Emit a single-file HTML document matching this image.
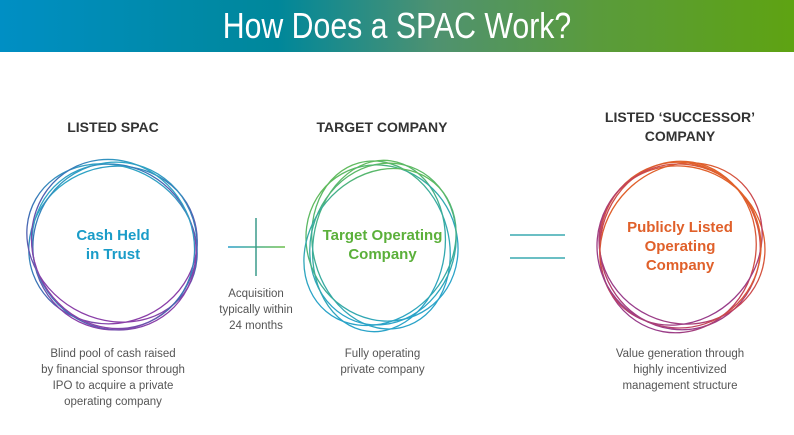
<!DOCTYPE html>
<html><head><meta charset="utf-8"><style>
body{margin:0;width:794px;height:435px;background:#fff;overflow:hidden;font-family:"Liberation Sans",sans-serif;position:relative}
.hdr{position:absolute;left:0;top:0;width:794px;height:52px;background:linear-gradient(90deg,#008fc4 0%,#00879a 35%,#4f9270 55%,#5a9b3c 75%,#5ea312 100%)}
.hdr span{display:block;color:#fff;font-size:36px;text-align:center;line-height:52px;transform:scaleX(0.84);transform-origin:397px 0}
.t{position:absolute;text-align:center;color:#333;font-weight:bold;font-size:14px;line-height:19px}
.d{position:absolute;text-align:center;color:#555;font-size:11.5px;line-height:16px}
.c{position:absolute;text-align:center;font-weight:bold;font-size:15px;line-height:19px}
</style></head><body>
<div class="hdr"><span>How Does a SPAC Work?</span></div>
<svg width="794" height="435" style="position:absolute;left:0;top:0">
<defs>
<linearGradient id="g1" x1="0" y1="0" x2="0.3" y2="1"><stop offset="0" stop-color="#2ab3c9"/><stop offset="0.55" stop-color="#3b6fb5"/><stop offset="1" stop-color="#8a3fa8"/></linearGradient>
<linearGradient id="g2" x1="0" y1="0" x2="0.3" y2="1"><stop offset="0" stop-color="#6cbf4a"/><stop offset="0.5" stop-color="#3aac9a"/><stop offset="1" stop-color="#2aa3c8"/></linearGradient>
<linearGradient id="g3" x1="0.3" y1="0" x2="0" y2="1"><stop offset="0" stop-color="#e0602a"/><stop offset="0.5" stop-color="#c3405a"/><stop offset="1" stop-color="#8a3c9a"/></linearGradient>
<linearGradient id="gp" gradientUnits="userSpaceOnUse" x1="228" y1="0" x2="285" y2="0"><stop offset="0" stop-color="#2a9fc9"/><stop offset="1" stop-color="#6cbf4a"/></linearGradient>
</defs>
<g fill="none" stroke="url(#g1)" stroke-width="1.3">
<ellipse cx="113" cy="245" rx="85" ry="78" transform="rotate(-20 113 245)"/>
<ellipse cx="115" cy="246" rx="82" ry="84" transform="rotate(15 115 246)"/>
<ellipse cx="112" cy="243" rx="88" ry="76" transform="rotate(30 112 243)"/>
<ellipse cx="114" cy="247" rx="80" ry="85" transform="rotate(-40 114 247)"/>
<ellipse cx="113" cy="244" rx="86" ry="80" transform="rotate(60 113 244)"/>
</g>
<g fill="none" stroke="url(#g2)" stroke-width="1.3">
<ellipse cx="381" cy="245" rx="68" ry="85" transform="rotate(-15 381 245)"/>
<ellipse cx="383" cy="244" rx="72" ry="82" transform="rotate(20 383 244)"/>
<ellipse cx="379" cy="246" rx="66" ry="86" transform="rotate(8 379 246)"/>
<ellipse cx="382" cy="243" rx="74" ry="80" transform="rotate(-35 382 243)"/>
<ellipse cx="380" cy="247" rx="70" ry="84" transform="rotate(40 380 247)"/>
</g>
<g fill="none" stroke="url(#g3)" stroke-width="1.3">
<ellipse cx="680" cy="246" rx="80" ry="84" transform="rotate(-15 680 246)"/>
<ellipse cx="682" cy="245" rx="84" ry="78" transform="rotate(25 682 245)"/>
<ellipse cx="678" cy="247" rx="78" ry="86" transform="rotate(10 678 247)"/>
<ellipse cx="681" cy="244" rx="86" ry="76" transform="rotate(-45 681 244)"/>
<ellipse cx="679" cy="246" rx="82" ry="82" transform="rotate(50 679 246)"/>
</g>
<line x1="228" y1="247" x2="285" y2="247" stroke="url(#gp)" stroke-width="1.5"/>
<line x1="256" y1="218" x2="256" y2="276" stroke="#3a9a8a" stroke-width="1.5"/>
<line x1="510" y1="235" x2="565" y2="235" stroke="#3aaab0" stroke-width="1.5"/>
<line x1="510" y1="258" x2="565" y2="258" stroke="#3aaab0" stroke-width="1.5"/>
</svg>
<div class="t" style="left:33px;top:118px;width:160px">LISTED SPAC</div>
<div class="t" style="left:302px;top:118px;width:160px">TARGET COMPANY</div>
<div class="t" style="left:580px;top:108px;width:200px">LISTED ‘SUCCESSOR’<br>COMPANY</div>
<div class="c" style="left:33px;top:226px;width:160px;color:#1a9cc8">Cash Held<br>in Trust</div>
<div class="c" style="left:300px;top:226px;width:165px;color:#5bb03a">Target Operating<br>Company</div>
<div class="c" style="left:600px;top:218px;width:160px;color:#e0602a">Publicly Listed<br>Operating<br>Company</div>
<div class="d" style="left:196px;top:286px;width:120px">Acquisition<br>typically within<br>24 months</div>
<div class="d" style="left:28px;top:346px;width:170px">Blind pool of cash raised<br>by financial sponsor through<br>IPO to acquire a private<br>operating company</div>
<div class="d" style="left:310px;top:346px;width:145px">Fully operating<br>private company</div>
<div class="d" style="left:590px;top:346px;width:180px">Value generation through<br>highly incentivized<br>management structure</div>
</body></html>
